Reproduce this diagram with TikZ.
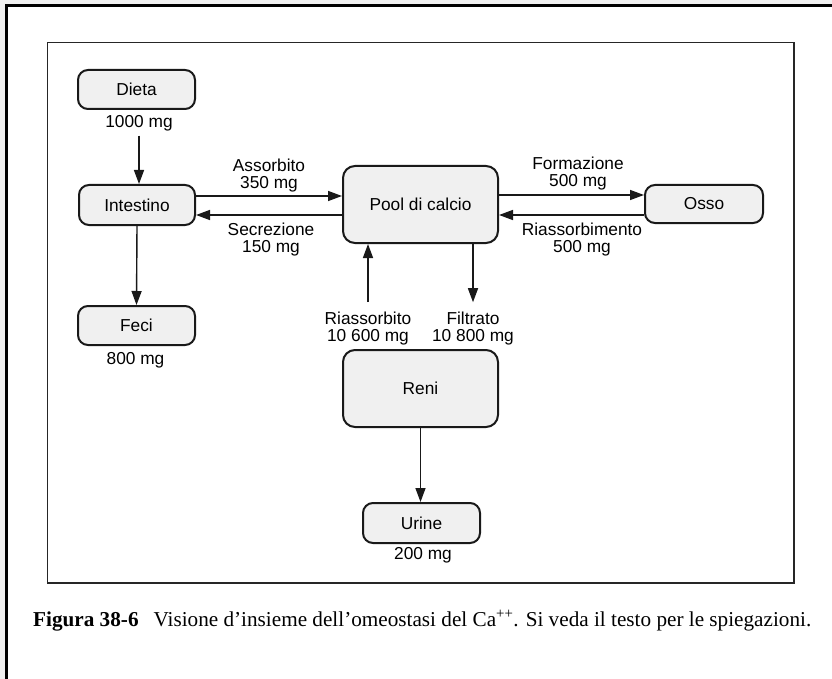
\documentclass[tikz,border=0pt]{standalone}
\usepackage{fontspec}
\setmainfont{Liberation Serif}
\setsansfont{Liberation Sans}
\usetikzlibrary{arrows.meta,calc}
\begin{document}
\begin{tikzpicture}[x=1pt,y=-1pt,
  box/.style={draw=black!90, line width=2pt, rounded corners=10pt, fill=black!6,
    font=\sffamily\fontsize{17.3}{17}\selectfont, inner sep=0pt},
  lbl/.style={font=\sffamily\fontsize{17.3}{17}\selectfont, align=center, inner sep=0pt},
  arr/.style={line width=1.4pt, draw=black!90, -{Triangle[length=14pt,width=10pt]}}]
\useasboundingbox (0,0) rectangle (832,679);
\fill[black!6] (0,0) rectangle (832,679);
\fill[white] (6,5) rectangle (832,679);
\draw[line width=2.5pt] (6.5,679) -- (6.5,5.5) -- (832,5.5);
% frame
\draw[line width=1.5pt, black!85] (47.5,42.5) rectangle (794,583);
% boxes
\node[box, minimum width=117pt, minimum height=39pt] (dieta) at (136.5,89.5) {Dieta};
\node[box, minimum width=116pt, minimum height=40pt] (int) at (137,205) {Intestino};
\node[box, minimum width=117pt, minimum height=39pt] (feci) at (136.5,325.5) {Feci};
\node[box, minimum width=155pt, minimum height=77pt, rounded corners=12pt] (pool) at (420.5,204.5) {Pool di calcio};
\node[box, minimum width=118pt, minimum height=38pt] (osso) at (704,204) {Osso};
\node[box, minimum width=155pt, minimum height=77pt, rounded corners=12pt] (reni) at (420.5,388.5) {Reni};
\node[box, minimum width=117pt, minimum height=40pt] (urine) at (421.5,523) {Urine};
% labels
\node[lbl] (dmg) at (139,123.5) {1000 mg};
\node[lbl] (fmg) at (135.5,360) {800 mg};
\node[lbl] (umg) at (423,555) {200 mg};
\node[lbl] (ass) at (269,175.5) {Assorbito\\350 mg};
\node[lbl] (sec) at (271,240) {Secrezione\\150 mg};
\node[lbl] (form) at (578,174) {Formazione\\500 mg};
\node[lbl] (ria) at (582,239.5) {Riassorbimento\\500 mg};
\node[lbl] (rlab) at (368,329) {Riassorbito\\10 600 mg};
\node[lbl] (flab) at (473,329) {Filtrato\\10 800 mg};
% connectors
\draw[arr] ([yshift=-4pt]dmg.south) -- (dmg.south |- int.north);
\draw[arr] (int.south) -- (feci.north);
\draw[arr] ([yshift=9pt]int.east) -- ([yshift=9pt]int.east -| pool.west);
\draw[arr] ([yshift=-10pt]int.east -| pool.west) -- ([yshift=-10pt]int.east);
\draw[arr] ([yshift=9pt]osso.west -| pool.east) -- ([yshift=9pt]osso.west);
\draw[arr] ([yshift=-11pt]osso.west) -- ([yshift=-11pt]osso.west -| pool.east);
\draw[arr] ([yshift=10pt]rlab.north) -- (rlab.north |- pool.south);
\draw[arr] (flab.north |- pool.south) -- ([yshift=10pt]flab.north);
\draw[arr] (reni.south) -- (reni.south |- urine.north);
% caption
\node[anchor=base west, inner sep=0pt, font=\fontsize{21.2}{24}\selectfont] (cap) at (33,626)
  {\textbf{Figura 38-6}\hspace{15pt}Visione d’insieme dell’omeostasi del Ca\textsuperscript{++}. Si veda il testo per le spiegazioni.};
\end{tikzpicture}
\end{document}
